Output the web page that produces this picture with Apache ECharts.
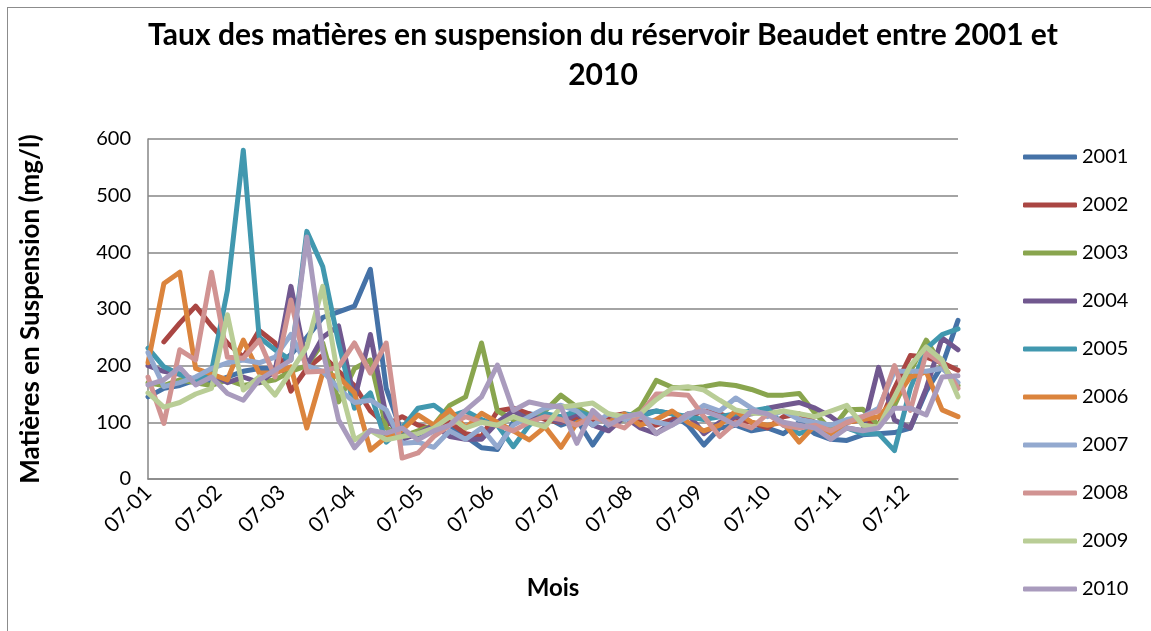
<!DOCTYPE html>
<html>
<head>
<meta charset="utf-8">
<script src="https://cdn.jsdelivr.net/npm/echarts@6/dist/echarts.min.js"></script>
<style>
  body{margin:0;background:#fff;}
  #frame{position:absolute;left:7px;top:7px;width:1160px;height:640px;border:1px solid #8c8c8c;pointer-events:none;}
  #chart{position:absolute;left:0;top:0;width:1151px;height:631px;}
</style>
</head>
<body>
<div id="chart"></div>
<div id="frame"></div>
<script>
  // weekly samples, Excel date axis (labels yy-mm)
  const weeks = [
    '2007-01-01','2007-01-08','2007-01-15','2007-01-22','2007-01-29',
    '2007-02-05','2007-02-12','2007-02-19','2007-02-26',
    '2007-03-05','2007-03-12','2007-03-19','2007-03-26',
    '2007-04-02','2007-04-09','2007-04-16','2007-04-23','2007-04-30',
    '2007-05-07','2007-05-14','2007-05-21','2007-05-28',
    '2007-06-04','2007-06-11','2007-06-18','2007-06-25',
    '2007-07-02','2007-07-09','2007-07-16','2007-07-23','2007-07-30',
    '2007-08-06','2007-08-13','2007-08-20','2007-08-27',
    '2007-09-03','2007-09-10','2007-09-17','2007-09-24',
    '2007-10-01','2007-10-08','2007-10-15','2007-10-22','2007-10-29',
    '2007-11-05','2007-11-12','2007-11-19','2007-11-26',
    '2007-12-03','2007-12-10','2007-12-17','2007-12-24'
  ];
  const years = ['2001','2002','2003','2004','2005','2006','2007','2008','2009','2010'];
  const colors = ['#4572A7','#AA4643','#89A54E','#71588F','#4198AF','#DB843D','#93A9CF','#D19392','#B9CD96','#A99BBD'];

  const y2001 = [145,160,165,175,170,180,190,195,195,220,250,285,295,305,370,160,80,75,85,95,75,55,52,100,115,110,95,105,60,100,110,115,120,115,95,60,90,95,85,90,80,100,80,70,68,78,80,82,90,155,200,280];
  const y2002 = [null,242,275,305,270,240,215,262,240,155,195,218,190,165,120,95,110,95,88,100,80,75,120,125,115,105,100,110,100,110,115,100,95,105,110,120,115,105,100,90,110,115,100,85,100,105,95,160,218,215,205,192];
  const y2003 = [170,165,175,170,165,175,165,170,175,190,200,240,136,195,210,90,75,85,95,130,145,240,120,105,110,120,148,127,110,100,105,125,174,162,160,163,168,165,158,148,148,151,116,86,122,123,95,130,190,245,200,165];
  const y2004 = [200,190,185,175,185,170,180,170,190,340,200,250,270,140,255,110,70,80,95,75,70,70,100,120,105,110,100,115,95,85,110,90,80,100,115,80,100,110,115,125,130,135,125,110,90,85,197,104,90,160,249,228];
  const y2005 = [231,198,185,170,190,333,580,250,228,210,437,375,240,125,152,65,90,125,130,110,120,105,95,57,95,115,110,120,110,100,115,110,120,115,110,105,110,115,120,125,95,80,90,85,90,80,80,50,160,230,255,265];
  const y2006 = [205,345,365,195,185,175,245,187,187,198,90,187,180,152,51,74,86,113,95,122,90,116,100,85,69,92,56,99,110,100,115,95,105,120,100,85,95,120,100,95,100,65,95,80,100,105,110,140,180,189,122,110];
  const y2007 = [223,163,170,180,195,205,210,205,215,255,200,190,160,135,139,122,63,65,56,85,70,90,56,95,110,125,130,120,95,115,105,110,100,95,110,130,120,143,125,110,120,105,100,95,105,110,125,190,190,190,195,170];
  const y2008 = [180,98,228,210,365,215,213,245,180,316,189,190,198,240,187,240,37,46,75,95,110,100,95,85,100,110,105,95,110,100,90,115,150,150,148,110,75,100,90,115,95,90,95,85,100,110,120,200,121,222,204,160];
  const y2009 = [152,127,135,150,160,290,157,180,148,190,233,340,175,69,86,69,75,80,90,110,90,100,95,110,100,92,127,130,134,115,110,115,140,160,163,157,139,122,116,115,120,115,110,120,130,95,92,145,200,233,210,145];
  const y2010 = [166,175,197,166,180,151,139,175,192,210,427,227,104,55,86,81,90,69,85,95,121,145,201,121,136,130,127,63,121,95,110,115,80,95,115,120,110,95,120,115,100,95,90,70,90,85,90,125,125,113,180,182];

  const values = [y2001,y2002,y2003,y2004,y2005,y2006,y2007,y2008,y2009,y2010];
  const yTicks = [0,100,200,300,400,500,600];

  const font = 'Lato, "Open Sans", sans-serif';
  let chart = echarts.init(document.getElementById('chart'));
  let option = {
    animation: false,
    color: colors,
    title: {
      text: 'Taux des matières en suspension du réservoir Beaudet entre 2001 et\n2010',
      left: 598,
      top: 10,
      textAlign: 'center',
      textStyle: {
        fontFamily: font,
        fontWeight: 'bold',
        fontSize: 30,
        lineHeight: 40,
        color: '#000'
      }
    },
    legend: {
      orient: 'vertical',
      left: 1018,
      top: 142,
      icon: 'roundRect',
      itemWidth: 54,
      itemHeight: 5,
      itemGap: 28,
      data: years,
      textStyle: {
        fontFamily: font,
        fontSize: 20,
        lineHeight: 20,
        color: '#000',
        padding: [0, 0, 0, 0]
      }
    },
    grid: {
      left: 148,
      right: 193,
      top: 139,
      bottom: 152
    },
    xAxis: {
      type: 'time',
      min: weeks[0],
      max: weeks[weeks.length - 1],
      minInterval: 28 * 86400000,
      maxInterval: 31 * 86400000,
      name: 'Mois',
      nameLocation: 'middle',
      nameGap: 97,
      nameTextStyle: {
        fontFamily: font,
        fontWeight: 'bold',
        fontSize: 24,
        color: '#000'
      },
      axisLine: {lineStyle: {color: '#868686', width: 1.5}},
      axisTick: {show: false},
      splitLine: {show: false},
      axisLabel: {
        rotate: 45,
        margin: 10,
        fontFamily: font,
        fontSize: 21,
        color: '#000',
        formatter: function (v) {
          let d = new Date(v);
          let yy = String(d.getFullYear() % 100).padStart(2, '0');
          let mm = String(d.getMonth() + 1).padStart(2, '0');
          return yy + '-' + mm;
        }
      }
    },
    yAxis: {
      type: 'value',
      min: yTicks[0],
      max: yTicks[yTicks.length - 1],
      interval: 100,
      name: 'Matières en Suspension (mg/l)',
      nameLocation: 'middle',
      nameRotate: 90,
      nameGap: 104,
      nameTextStyle: {
        fontFamily: font,
        fontWeight: 'bold',
        fontSize: 26,
        color: '#000'
      },
      axisLine: {show: true, lineStyle: {color: '#868686', width: 1.5}},
      axisTick: {show: false},
      splitLine: {lineStyle: {color: '#868686', width: 1.5}},
      axisLabel: {
        margin: 17,
        fontFamily: font,
        fontSize: 20,
        color: '#000'
      }
    },
    series: years.map((y, k) => ({
      name: y,
      type: 'line',
      showSymbol: false,
      symbol: 'none',
      data: weeks.map((d, i) => [d, values[k][i]]),
      lineStyle: {
        width: 5,
        color: colors[k],
        cap: 'round',
        join: 'round'
      },
      itemStyle: {color: colors[k]}
    }))
  };
  chart.setOption(option);
</script>
</body>
</html>
